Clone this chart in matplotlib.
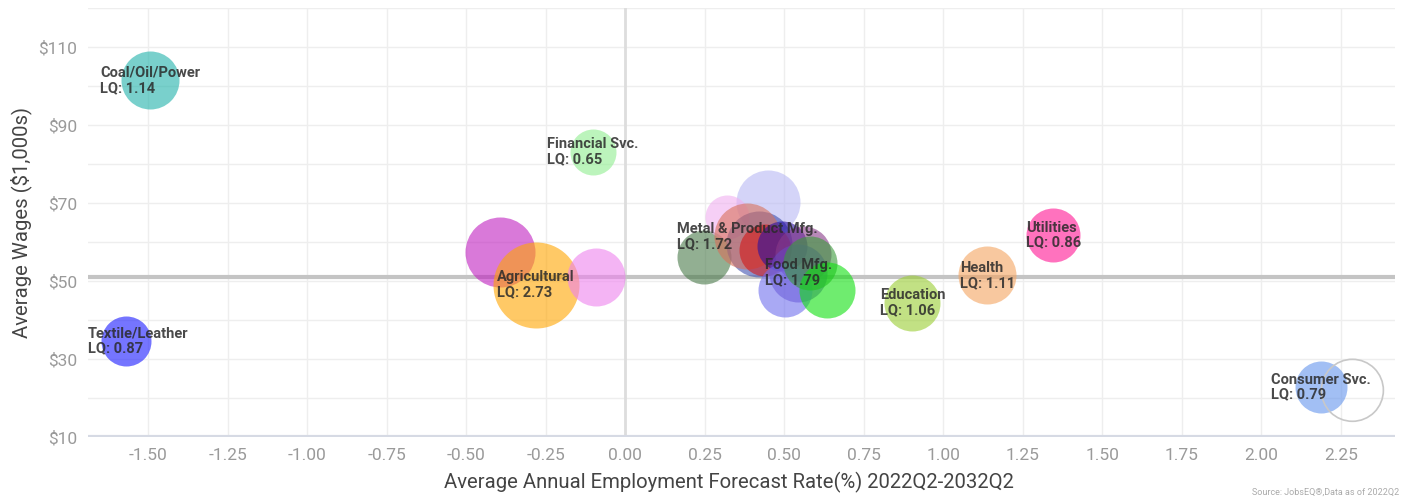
import matplotlib
matplotlib.use("Agg")
import matplotlib.pyplot as plt
import numpy as np

# industry bubbles: growth rate (%), avg wage ($1,000s), location quotient, bubble size
industries = ["Coal/Oil/Power", "Financial Svc.", "Textile/Leather", "Chemicals",
              "Agricultural", "Retail", "Construction", "Info/Tech", "Arts",
              "Transportation", "Metal & Product Mfg.", "Machinery", "Electronics",
              "Wood/Paper", "Food Mfg.", "Wholesale", "Mining", "Admin Svc.",
              "Education", "Health", "Utilities", "Consumer Svc.", "Other"]
growth = [-1.494, -0.101, -1.569, -0.393, -0.280, -0.091, 0.248, 0.450, 0.321,
          0.420, 0.384, 0.440, 0.494, 0.560, 0.544, 0.503, 0.582, 0.635,
          0.903, 1.138, 1.346, 2.186, 2.286]
wages = [101.5, 83.1, 34.6, 57.4, 49.0, 51.0, 56.2, 70.3, 66.4,
         59.5, 61.5, 58.0, 59.0, 57.0, 52.1, 47.7, 54.6, 47.7,
         44.4, 51.5, 61.8, 22.8, 22.0]
lq = [1.14, 0.65, 0.87, None, 2.73, None, None, None, None,
      None, 1.72, None, None, None, 1.79, None, None, None,
      1.06, 1.11, 0.86, 0.79, None]
bubble_size = [841, 529, 625, 1225, 1849, 841, 729, 1024, 484,
               1089, 1089, 676, 625, 784, 841, 729, 729, 784,
               784, 841, 729, 676, 961]
avg_wage = 51.0

colors = ["#20b2aa", "#90ee90", "#1a1aff", "#c020c0", "#ffa500", "#ee82ee",
          "#4a7a4a", "#b8b8f4", "#f0b0f0", "#4050b0", "#d8705a", "#d41818",
          "#2a10a0", "#8a3a8a", "#6a48c0", "#7070ee", "#3a9a3a", "#10e010",
          "#9acd32", "#f4a460", "#ff1493", "#6495ed", "#ffffff"]

plt.rcParams["font.family"] = ["Roboto", "DejaVu Sans"]
plt.rcParams["axes.unicode_minus"] = False

fig = plt.figure(figsize=(14.08, 5.03), dpi=100)
ax = fig.add_axes([0.0625, 0.131, 0.9285, 0.853])

x0, x1 = -1.689, 2.421
ax.set_xlim(x0, x1)
ax.set_ylim(10, 120)

# grid
for yv in np.arange(20, 121, 10):
    ax.axhline(yv, color="#eeeeee", lw=1, zorder=0)
for xv in np.arange(-1.5, 2.3, 0.25):
    ax.axvline(xv, color="#eeeeee", lw=1, zorder=0)
ax.axvline(0, color="#dddddd", lw=2, zorder=0)
ax.axhline(10, color="#d6dae4", lw=3, zorder=0)
ax.axhline(avg_wage, color="#c4c4c4", lw=3, zorder=1)

pts_per_px = 72 / fig.dpi
for i in range(len(industries)):
    s = bubble_size[i] * (2 * pts_per_px) ** 2
    if colors[i] == "#ffffff":
        ax.scatter(growth[i], wages[i], s=s, facecolor="none",
                   edgecolor="#c8c8c8", linewidth=1.2, zorder=2)
    else:
        ax.scatter(growth[i], wages[i], s=s, color=colors[i], alpha=0.6,
                   linewidth=0, zorder=2)

# labels centred on bubbles, kept inside plot area
fig.canvas.draw()
renderer = fig.canvas.get_renderer()
for i in range(len(industries)):
    if lq[i] is None:
        continue
    t = ax.text(growth[i], wages[i], f"{industries[i]}\nLQ: {lq[i]:.2f}",
                ha="center", va="center", multialignment="left",
                fontsize=10.5, fontweight="bold", color="#2a2a2a", alpha=0.85,
                linespacing=1.1, zorder=5)
    bb = t.get_window_extent(renderer)
    axbb = ax.get_window_extent(renderer)
    if bb.x0 < axbb.x0:
        t.set_ha("left")
        t.set_x(x0)

ax.set_yticks(np.arange(10, 111, 20))
ax.set_yticklabels([f"${v}" for v in range(10, 111, 20)])
ax.set_xticks(np.arange(-1.5, 2.26, 0.25))
ax.set_xticklabels([f"{v:.2f}" for v in np.arange(-1.5, 2.26, 0.25)])
ax.tick_params(length=0, labelsize=12.5, labelcolor="#9a9a9a", pad=8)
for sp in ax.spines.values():
    sp.set_visible(False)

ax.set_xlabel("Average Annual Employment Forecast Rate(%) 2022Q2-2032Q2",
              fontsize=14.6, color="#444444")
ax.xaxis.set_label_coords(0.49, -0.08)
ax.set_ylabel("Average Wages ($1,000s)", fontsize=14.6, color="#444444")
ax.yaxis.set_label_coords(-0.043, 0.5)

fig.text(0.994, 0.012, "Source: JobsEQ®,Data as of 2022Q2", ha="right",
         va="bottom", fontsize=6.5, color="#aaaaaa")

fig.savefig("out.png", dpi=100)
